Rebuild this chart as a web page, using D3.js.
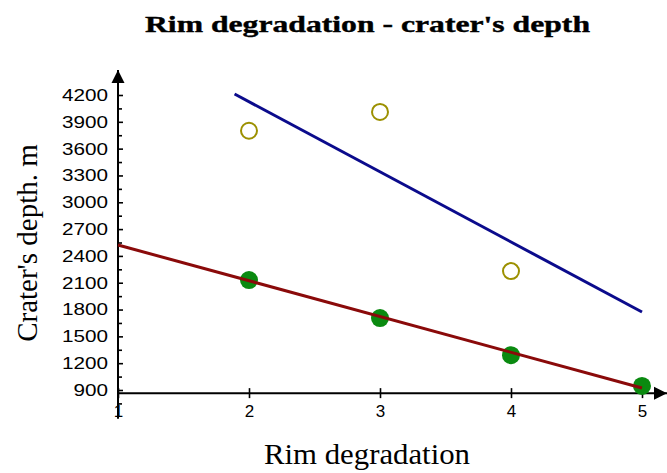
<!DOCTYPE html>
<html>
<head>
<meta charset="utf-8">
<script src="https://cdn.jsdelivr.net/npm/d3@7"></script>
<style>
  body { margin: 0; background: #fff; }
  .tick text { font-family: "Liberation Sans", Arial, sans-serif; fill: #000; }
  .tick line { stroke: #000; stroke-width: 1.6; }
</style>
</head>
<body>
<script>
// data
const rimLevels = [2, 3, 4, 5];
const depthFilled = [2130, 1705, 1290, 945];      // green dots
const rimOpen = [2, 3, 4];
const depthOpen = [3800, 4010, 2230];             // open circles
const redFit = [[1, 2522], [5, 922]];             // trend of green dots
const blueFit = [[1.89, 4211], [5, 1772]];        // trend of open circles
const yMajor = [900, 1200, 1500, 1800, 2100, 2400, 2700, 3000, 3300, 3600, 3900, 4200];
const yMinor = [750, 1050, 1350, 1650, 1950, 2250, 2550, 2850, 3150, 3450, 3750, 4050];
const xTicks = [1, 2, 3, 4, 5];

const width = 667;
const height = 473;

const svg = d3.select("body")
  .append("svg")
  .attr("width", width)
  .attr("height", height);

const x = d3.scaleLinear().domain([1, 5]).range([118, 642]);
const y = d3.scaleLinear().domain([900, 4200]).range([390, 95]);

const axisY = 865; // value where the x axis crosses

// arrow head
svg.append("defs").append("marker")
  .attr("id", "arrow")
  .attr("viewBox", "0 0 10 10")
  .attr("refX", 10).attr("refY", 5)
  .attr("markerWidth", 13).attr("markerHeight", 14)
  .attr("markerUnits", "userSpaceOnUse")
  .attr("orient", "auto")
  .append("path")
  .attr("d", "M0,0L10,5L0,10Z")
  .attr("fill", "#000");

// title
svg.append("text")
  .attr("x", 145).attr("y", 32)
  .attr("textLength", 445).attr("lengthAdjust", "spacingAndGlyphs")
  .style("font-family", "'Liberation Serif', 'Times New Roman', serif")
  .style("font-weight", "bold").style("font-size", "24px")
  .attr("stroke", "#000").attr("stroke-width", 0.4)
  .text("Rim degradation - crater's depth");

// axis titles
svg.append("text")
  .attr("transform", "translate(37, 243) rotate(-90)")
  .attr("text-anchor", "middle")
  .style("font-family", "'Liberation Serif', 'Times New Roman', serif")
  .style("font-size", "29px")
  .text("Crater's depth. m");

svg.append("text")
  .attr("x", 264).attr("y", 464)
  .attr("textLength", 206).attr("lengthAdjust", "spacingAndGlyphs")
  .style("font-family", "'Liberation Serif', 'Times New Roman', serif")
  .style("font-size", "29px")
  .text("Rim degradation");

// axes lines with arrows
svg.append("line")
  .attr("x1", x(1)).attr("x2", x(1))
  .attr("y1", y(578)).attr("y2", 70)
  .attr("stroke", "#000").attr("stroke-width", 2)
  .attr("marker-end", "url(#arrow)");

svg.append("line")
  .attr("x1", x(1)).attr("x2", 667)
  .attr("y1", y(axisY)).attr("y2", y(axisY))
  .attr("stroke", "#000").attr("stroke-width", 2)
  .attr("marker-end", "url(#arrow)");

// y ticks
const gy = svg.append("g")
  .attr("transform", `translate(${x(1)},0)`)
  .call(d3.axisLeft(y).tickValues(yMajor).tickSize(6).tickPadding(4).tickFormat(d3.format("d")));
gy.select(".domain").remove();
gy.selectAll(".tick line").attr("x2", 5);
gy.selectAll(".tick text")
  .style("font-size", "16px")
  .attr("dy", "0.34em")
  .attr("textLength", (d) => String(d).length * 11.5)
  .attr("lengthAdjust", "spacingAndGlyphs");

const gyMinor = svg.append("g")
  .attr("transform", `translate(${x(1)},0)`)
  .call(d3.axisLeft(y).tickValues(yMinor).tickSize(5).tickFormat(""));
gyMinor.select(".domain").remove();
gyMinor.selectAll(".tick line").attr("x2", 4);

// x ticks
const gx = svg.append("g")
  .attr("transform", `translate(0,${y(axisY)})`)
  .call(d3.axisBottom(x).tickValues(xTicks).tickSize(5).tickPadding(7).tickFormat(d3.format("d")));
gx.select(".domain").remove();
gx.selectAll(".tick line").attr("y1", -5);
gx.selectAll(".tick text").style("font-size", "17px");

// trend lines
const line = d3.line().x((d) => x(d[0])).y((d) => y(d[1]));

svg.append("path")
  .datum(blueFit)
  .attr("d", line)
  .attr("fill", "none")
  .attr("stroke", "#0b0b8c")
  .attr("stroke-width", 3);

// green dots
svg.selectAll(".filled")
  .data(rimLevels.map((r, i) => [r, depthFilled[i]]))
  .enter()
  .append("circle")
  .attr("class", "filled")
  .attr("cx", (d) => x(d[0]))
  .attr("cy", (d) => y(d[1]))
  .attr("r", 9)
  .attr("fill", "#0a8a10");

svg.append("path")
  .datum(redFit)
  .attr("d", line)
  .attr("fill", "none")
  .attr("stroke", "#8a0a0a")
  .attr("stroke-width", 3);

// open circles
svg.selectAll(".open")
  .data(rimOpen.map((r, i) => [r, depthOpen[i]]))
  .enter()
  .append("circle")
  .attr("class", "open")
  .attr("cx", (d) => x(d[0]))
  .attr("cy", (d) => y(d[1]))
  .attr("r", 8)
  .attr("fill", "none")
  .attr("stroke", "#9c9000")
  .attr("stroke-width", 2);
</script>
</body>
</html>
